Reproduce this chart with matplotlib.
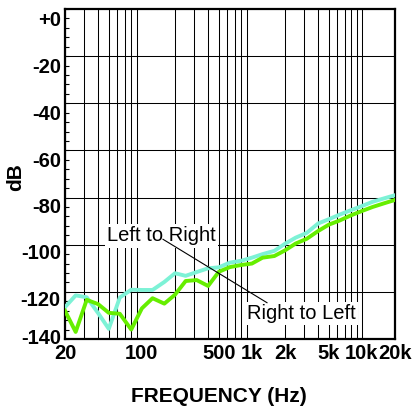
#!/usr/bin/env python
"""
Crosstalk vs frequency, left-to-right and right-to-left.
"""

import matplotlib.pyplot as plt
import matplotlib.transforms as mtransforms
import numpy as np

plt.rcParams["font.family"] = ["Liberation Sans", "DejaVu Sans"]

# third-octave frequencies (Hz)
freqs = [20, 25, 31.5, 40, 50, 63, 80, 100, 125, 160, 200, 250, 315, 400,
         500, 630, 800, 1000, 1250, 1600, 2000, 2500, 3150, 4000, 5000,
         6300, 8000, 10000, 12500, 16000, 20000]

left_to_right = [-126.5, -121.5, -122.3, -129.0, -135.7, -122.4, -119.1,
                 -119.2, -119.2, -115.8, -112.1, -113.2, -111.6, -110.0,
                 -109.6, -107.6, -106.8, -105.5, -104.0, -102.6, -99.6,
                 -97.0, -95.0, -91.0, -89.2, -87.2, -85.3, -83.6, -81.8,
                 -80.3, -79.0]

right_to_left = [-128.0, -137.0, -123.4, -125.2, -128.9, -129.3, -136.0,
                 -127.0, -122.7, -125.0, -121.2, -115.4, -115.0, -117.5,
                 -111.5, -109.5, -108.6, -108.0, -105.5, -104.8, -102.4,
                 -99.5, -97.5, -94.2, -91.5, -89.7, -87.5, -85.7, -84.0,
                 -82.4, -81.0]

x_ticks = [20, 100, 500, 1000, 2000, 5000, 10000, 20000]
x_tick_labels = ["20", "100", "500", "1k", "2k", "5k", "10k", "20k"]
y_ticks = [0, -20, -40, -60, -80, -100, -120, -140]
y_tick_labels = ["+0", "-20", "-40", "-60", "-80", "-100", "-120", "-140"]

fig = plt.figure(figsize=(4.17, 4.08), dpi=100)
ax = fig.add_axes([65 / 417, 1 - 339 / 408, 330 / 417, 330 / 408])

ax.plot(freqs, left_to_right, color="#7DF2D6", lw=2.8, zorder=3)
ax.plot(freqs, right_to_left, color="#66EE00", lw=2.8, zorder=3)

ax.set_xscale("log")
ax.set_xlim(20, 20000)
ax.set_ylim(-140, 0)

# grid at every 1..9 multiple
grid_x = [m * d for d in (10, 100, 1000) for m in range(2, 10)] + [10000, 20000]
for gx in grid_x:
    ax.axvline(gx, color="black", lw=0.75, zorder=1)
for gy in y_ticks[1:-1]:
    ax.axhline(gy, color="black", lw=0.75, zorder=1)

ax.set_xticks(x_ticks)
ax.set_xticklabels(x_tick_labels, fontsize=14.5, fontweight="bold")
ax.xaxis.set_minor_locator(plt.NullLocator())
ax.tick_params(axis="x", which="major", length=0, pad=3.5)

ax.set_yticks(y_ticks)
ax.set_yticklabels([])
ax.set_yticks(np.arange(-140, 1, 4), minor=True)
ax.tick_params(axis="y", which="both", direction="in", length=3, width=0.8)

# y labels sit a little below their gridline, as in the original
tr_base = mtransforms.blended_transform_factory(ax.transAxes, ax.transData)
for val, lab in zip(y_ticks, y_tick_labels):
    if val == -140:
        dy = 0
    elif val >= -60:
        dy = -8
    else:
        dy = -8 + (-60 - val) * 0.033
    tr = tr_base + mtransforms.ScaledTranslation(-3 / 72, dy / 72, fig.dpi_scale_trans)
    ax.text(0, val, lab, transform=tr, ha="right", va="center",
            fontsize=14.5, fontweight="bold")

for sp in ax.spines.values():
    sp.set_linewidth(1.6)

ax.set_xlabel("FREQUENCY (Hz)", fontsize=15, fontweight="bold")
ax.xaxis.set_label_coords(0.465, -0.145)
ax.set_ylabel("dB", fontsize=15, fontweight="bold")
ax.yaxis.set_label_coords(-0.12, 0.49)

box = dict(facecolor="white", edgecolor="none", pad=1.5)
ax.text(150.8, -96.3, "Left to Right", fontsize=14.5, ha="center",
        va="center", bbox=box, zorder=5)
ax.text(2825, -129.3, "Right to Left", fontsize=14.5, ha="center",
        va="center", bbox=box, zorder=5)

# leader line between the two labels
ax.plot([155.6, 1372], [-97.7, -124.6], color="black", lw=0.8, zorder=6)

fig.savefig("out.png", dpi=100)
